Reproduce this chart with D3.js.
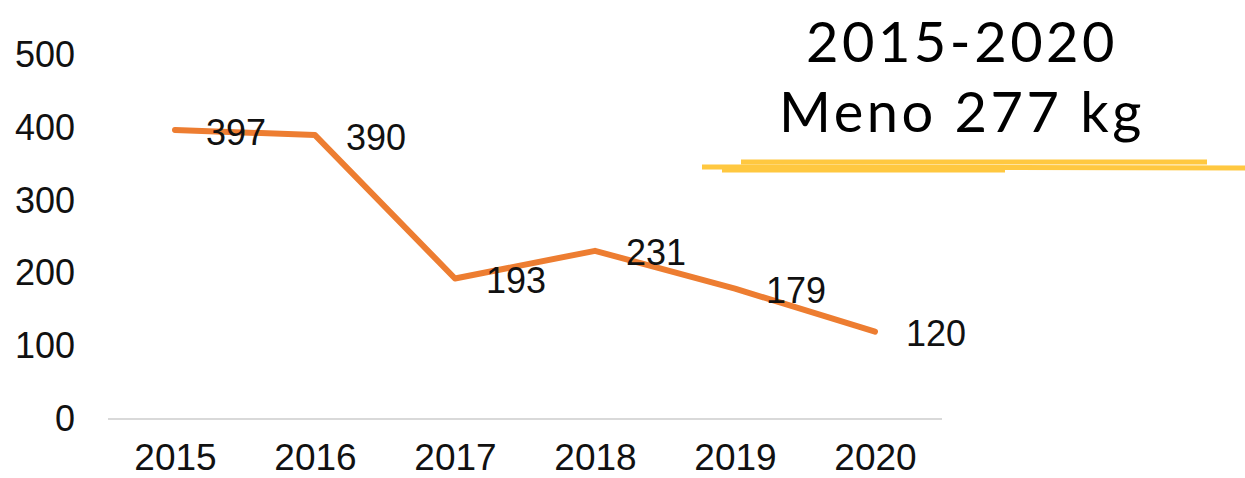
<!DOCTYPE html>
<html>
<head>
<meta charset="utf-8">
<script src="https://cdn.jsdelivr.net/npm/d3@7"></script>
<style>
  body { margin: 0; background: #fff; }
  svg text { font-family: "Liberation Sans", Arial, sans-serif; fill: #111; }
</style>
</head>
<body>
<script>
const years = ["2015", "2016", "2017", "2018", "2019", "2020"];
const values = [397, 390, 193, 231, 179, 120];
const yTicks = [0, 100, 200, 300, 400, 500];
const titleLines = ["2015-2020", "Meno 277 kg"];

const W = 1245, H = 478;
const svg = d3.select("body").append("svg").attr("width", W).attr("height", H);

const x = d3.scalePoint().domain(years).range([175, 875]);
const y = d3.scaleLinear().domain([0, 500]).range([419, 55]);

// baseline
svg.append("line")
    .attr("x1", 108).attr("x2", 942)
    .attr("y1", y(0)).attr("y2", y(0))
    .attr("stroke", "#d9d9d9").attr("stroke-width", 2);

// y axis labels
const yAxis = d3.axisLeft(y).tickValues(yTicks).tickSize(0).tickPadding(0);
const gy = svg.append("g").attr("transform", "translate(75,0)").call(yAxis);
gy.select(".domain").remove();
gy.selectAll("text").style("font-size", "36px").attr("fill", "#111")
    .attr("font-family", "Liberation Sans, Arial, sans-serif");

// x axis labels
const xAxis = d3.axisBottom(x).tickSize(0).tickPadding(0);
const gx = svg.append("g").attr("transform", "translate(0,444)").call(xAxis);
gx.select(".domain").remove();
gx.selectAll("text").style("font-size", "37px").attr("fill", "#111")
    .attr("font-family", "Liberation Sans, Arial, sans-serif");

// line
const line = d3.line()
    .x((d, i) => x(years[i]))
    .y(d => y(d));

svg.append("path")
    .datum(values)
    .attr("d", line)
    .attr("fill", "none")
    .attr("stroke", "#ED7D31")
    .attr("stroke-width", 6)
    .attr("stroke-linecap", "round")
    .attr("stroke-linejoin", "round");

// data labels
svg.selectAll("text.lbl").data(values).enter().append("text")
    .attr("class", "lbl")
    .attr("x", (d, i) => x(years[i]) + 31)
    .attr("y", (d, i) => y(d) + 2)
    .attr("dy", "0.35em")
    .style("font-size", "36px")
    .text(d => d);

// title (handwritten look in original)
svg.selectAll("text.title").data(titleLines).enter().append("text")
    .attr("class", "title")
    .attr("x", 962)
    .attr("y", (d, i) => 62 + i * 70)
    .attr("text-anchor", "middle")
    .style("font-family", "Lato, sans-serif")
    .style("font-size", "56px")
    .style("font-weight", 400)
    .style("letter-spacing", "3.5px")
    .style("fill", "#000")
    .text(d => d);

// yellow marker strokes
const strokes = [
    [[741, 162], [1207, 162]],
    [[702, 167], [1245, 168]],
    [[722, 170], [1005, 170]]
];
svg.selectAll("path.hl").data(strokes).enter().append("path")
    .attr("class", "hl")
    .attr("d", d3.line())
    .attr("stroke", "#FFC840")
    .attr("stroke-width", 5)
    .attr("fill", "none");
</script>
</body>
</html>
